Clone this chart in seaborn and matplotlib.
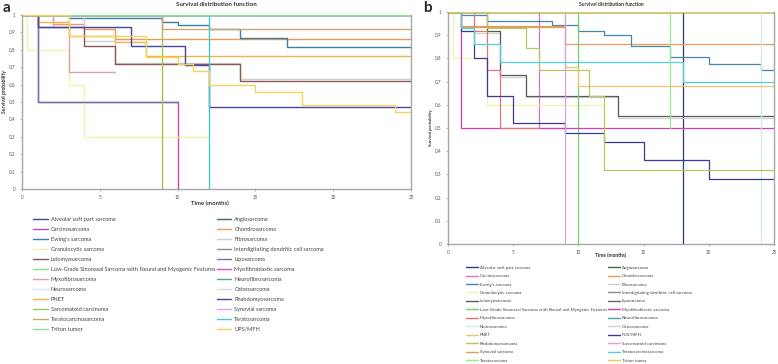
import numpy as np
import seaborn as sns
import matplotlib.pyplot as plt
import pandas as pd
from matplotlib.lines import Line2D

# ---- panel a data: (time in months, survival probability), step functions
a_names = ["Alveolar soft part sarcoma", "Angiosarcoma", "Carcinosarcoma", "Chondrosarcoma",
           "Ewing's sarcoma", "Fibrosarcoma", "Granulocytic sarcoma",
           "Interdigitating dendritic cell sarcoma", "Leiomyosarcoma", "Liposarcoma",
           "Low-Grade Sinonasal Sarcoma with Neural and Myogenic Features",
           "Myofibroblastic sarcoma", "Myxofibrosarcoma", "Neurofibrosarcoma", "Neurosarcoma",
           "Osteosarcoma", "PNET", "Rhabdomyosarcoma", "Sarcomatoid carcinoma",
           "Synovial sarcoma", "Teratocarcinosarcoma", "Teratosarcoma", "Triton tumor", "UPS/MFH"]
a_times = [[0, 25], [0, 25], [0, 1, 10], [0, 2, 4, 6, 25],
           [0, 3, 9, 10, 12, 14, 17, 25], [0, 4, 6, 14, 25], [0, 0.3, 3, 4, 12],
           [0, 25], [0, 1, 4, 6, 14, 25], [0, 1, 10],
           [0, 25],
           [0, 25], [0, 2, 3, 6], [0, 25], [0, 25],
           [0, 25], [0, 1, 3, 6, 8, 25], [0, 1, 7, 10.5, 12, 25], [0, 9],
           [0, 25], [0, 9, 25], [0, 12], [0, 25], [0, 3, 8, 10, 11, 12, 15, 18, 24, 25]]
a_surv = [[1, 1], [1, 1], [1, 0.5, 0], [1, 0.95, 0.92, 0.86, 0.86],
          [1, 0.98, 0.96, 0.94, 0.92, 0.87, 0.815, 0.815], [1, 0.85, 0.725, 0.635, 0.635],
          [1, 0.8, 0.6, 0.3, 0.3],
          [1, 1], [1, 0.93, 0.82, 0.72, 0.62, 0.62], [1, 0.5, 0.5],
          [1, 1],
          [1, 1], [1, 0.93, 0.67, 0.67], [1, 1], [1, 1],
          [1, 1], [1, 0.96, 0.88, 0.845, 0.765, 0.765], [1, 0.93, 0.82, 0.71, 0.47, 0.47], [1, 0],
          [1, 1], [1, 0.92, 0.92], [1, 0], [1, 1],
          [1, 0.88, 0.76, 0.72, 0.68, 0.6, 0.56, 0.48, 0.44, 0.44]]
a_colors = ["#3c4c82", "#3f6e3f", "#c048b0", "#ec9a5c", "#3d7fa3", "#cfcfcf", "#f4f2a8",
            "#8e8e8e", "#8a5a5a", "#7474aa", "#88dc88", "#e048c8", "#d8a4ac", "#52a698",
            "#d4e8f6", "#d8d8d8", "#f2b24e", "#4646a6", "#a4c24e", "#d6a8e0", "#d2a474",
            "#46c8cc", "#88e488", "#f2d45a"]

# ---- panel b data
b_names = ["Alveolar soft part sarcoma", "Angiosarcoma", "Carcinosarcoma", "Chondrosarcoma",
           "Ewing's sarcoma", "Fibrosarcoma", "Granulocytic sarcoma",
           "Interdigitating dendritic cell sarcoma", "Leiomyosarcoma", "Liposarcoma",
           "Low-Grade Sinonasal Sarcoma with Neural and Myogenic Features",
           "Myofibroblastic sarcoma", "Myxofibrosarcoma", "Neurofibrosarcoma", "Neurosarcoma",
           "Osteosarcoma", "PNET", "PUS/MFH", "Rhabdomyosarcoma", "Sarcomatoid carcinoma",
           "Synovial sarcoma", "Teratocarcinosarcoma", "Teratosarcoma", "Triton tumor"]
b_times = [[0, 18], [0, 25], [0, 7, 9], [0, 1, 9, 25],
           [0, 1, 3, 8, 10, 12, 14, 17, 20, 24, 25], [0, 2, 4, 6, 13, 25], [0, 0.4, 3, 12],
           [0, 25], [0, 3, 4, 6, 13, 25], [0, 25],
           [0, 10],
           [0, 1, 25], [0, 2, 3, 4, 7], [0, 25], [0, 24],
           [0, 25], [0, 9, 10, 25], [0, 1, 2, 3, 5, 9, 12, 15, 20, 25],
           [0, 3, 6, 7, 10.8, 12, 25], [0, 9],
           [0, 1, 9], [0, 1, 2, 4, 18, 25], [0, 17], [0, 25]]
b_surv = [[1, 0], [1, 1], [1, 0.5, 0.5], [1, 0.935, 0.86, 0.86],
          [1, 0.985, 0.96, 0.945, 0.92, 0.9, 0.855, 0.805, 0.775, 0.75, 0.75],
          [1, 0.91, 0.72, 0.635, 0.545, 0.545], [1, 0.8, 0.6, 0.6],
          [1, 1], [1, 0.92, 0.73, 0.64, 0.55, 0.55], [1, 1],
          [1, 0],
          [1, 0.5, 0.5], [1, 0.92, 0.75, 0.5, 0.5], [1, 1], [1, 0],
          [1, 1], [1, 0.765, 0.68, 0.68], [1, 0.92, 0.8, 0.64, 0.52, 0.48, 0.44, 0.36, 0.28, 0.28],
          [1, 0.93, 0.845, 0.75, 0.64, 0.32, 0.32], [1, 0],
          [1, 0.94, 0.94], [1, 0.93, 0.86, 0.785, 0.7, 0.7], [1, 0.5], [1, 1]]
b_colors = ["#2e3a78", "#3f6e3f", "#e070c8", "#ec9a5c", "#4a86a8", "#d2d2d2", "#f4f2a8",
            "#8e8e8e", "#5a5a5a", "#6a6a6a", "#6ad06a", "#d040b0", "#e07a72", "#4aa0a8",
            "#c6eef2", "#d8d0e8", "#f2c070", "#3a3a96", "#b8c860", "#d8a0e8", "#d8a060",
            "#52d0dc", "#98e898", "#e8c850"]


def to_frame(names, times, surv):
    rows = []
    for n, t, s in zip(names, times, surv):
        for ti, si in zip(t, s):
            rows.append((n, ti, si))
    return pd.DataFrame(rows, columns=["type", "time", "surv"])


sns.set_style("white")
plt.rcParams["font.family"] = ["Lato", "DejaVu Sans"]

fig = plt.figure(figsize=(7.78, 3.64), dpi=100)
W, H = 778, 364


def px_axes(x0, y0, x1, y1):
    return fig.add_axes([x0 / W, 1 - y1 / H, (x1 - x0) / W, (y1 - y0) / H])


def draw_panel(ax, names, times, surv, colors, lw):
    df = to_frame(names, times, surv)
    sns.lineplot(data=df, x="time", y="surv", hue="type", hue_order=names,
                 palette=dict(zip(names, colors)), estimator=None, sort=False,
                 drawstyle="steps-post", linewidth=lw, legend=False, ax=ax)
    ax.set_xlim(0, 25)
    ax.set_ylim(0, 1)
    ax.set_xticks([0, 5, 10, 15, 20, 25])
    ax.set_yticks(np.round(np.arange(0, 1.01, 0.1), 1))
    ax.set_yticklabels(["%g" % v for v in np.round(np.arange(0, 1.01, 0.1), 1)])
    ax.tick_params(labelsize=3.3, length=1.5, width=0.5, color="#999999", pad=3,
                   labelcolor="#555555", left=True, bottom=True)
    for side in ["left", "bottom", "right"]:
        ax.spines[side].set_color("#a8a8a8")
        ax.spines[side].set_linewidth(1.0)
    ax.spines["top"].set_visible(False)
    ax.set_xlabel("")
    ax.set_ylabel("")


ax_a = px_axes(22, 15, 411, 189)
draw_panel(ax_a, a_names, a_times, a_surv, a_colors, 1.0)
ax_b = px_axes(448, 12, 774, 244)
draw_panel(ax_b, b_names, b_times, b_surv, b_colors, 0.9)

# titles and labels
fig.text(216 / W, 1 - 5 / H, "Survival distribution function", ha="center", va="center",
         fontsize=4.5, fontweight="bold", color="#333333")
fig.text(611 / W, 1 - 4 / H, "Survival distribution function", ha="center", va="center",
         fontsize=3.6, fontweight="bold", color="#333333")
fig.text(3 / W, 1 - 8 / H, "a", ha="left", va="center", fontsize=11, fontweight="bold")
fig.text(423 / W, 1 - 8 / H, "b", ha="left", va="center", fontsize=11, fontweight="bold")
fig.text(210 / W, 1 - 203 / H, "Time (months)", ha="center", va="center",
         fontsize=4.2, fontweight="bold", color="#333333")
fig.text(611 / W, 1 - 255 / H, "Time (months)", ha="center", va="center",
         fontsize=3.6, fontweight="bold", color="#333333")
fig.text(5 / W, 1 - 92 / H, "Survival probability", ha="center", va="center", rotation=90,
         fontsize=3.6, fontweight="bold", color="#333333")
fig.text(431 / W, 1 - 128 / H, "Survival probability", ha="center", va="center", rotation=90,
         fontsize=3.1, fontweight="bold", color="#333333")


def add_legend(names, colors, x, y, fs, spacing):
    handles = [Line2D([], [], color=c, linewidth=1.0) for c in colors]
    order = list(range(0, len(names), 2)) + list(range(1, len(names), 2))
    leg = fig.legend([handles[i] for i in order], [names[i] for i in order],
                     loc="upper left", bbox_to_anchor=(x / W, 1 - y / H), ncol=2,
                     frameon=False, fontsize=fs, borderpad=0, borderaxespad=0,
                     handlelength=2.6, handletextpad=0.5, columnspacing=0.3,
                     labelspacing=spacing)
    for t in leg.get_texts():
        t.set_color("#444444")


add_legend(a_names, a_colors, 33, 216.5, 4.1, 0.88)
add_legend(b_names, b_colors, 466, 265.5, 3.2, 0.98)

fig.savefig("out.png", dpi=100)
